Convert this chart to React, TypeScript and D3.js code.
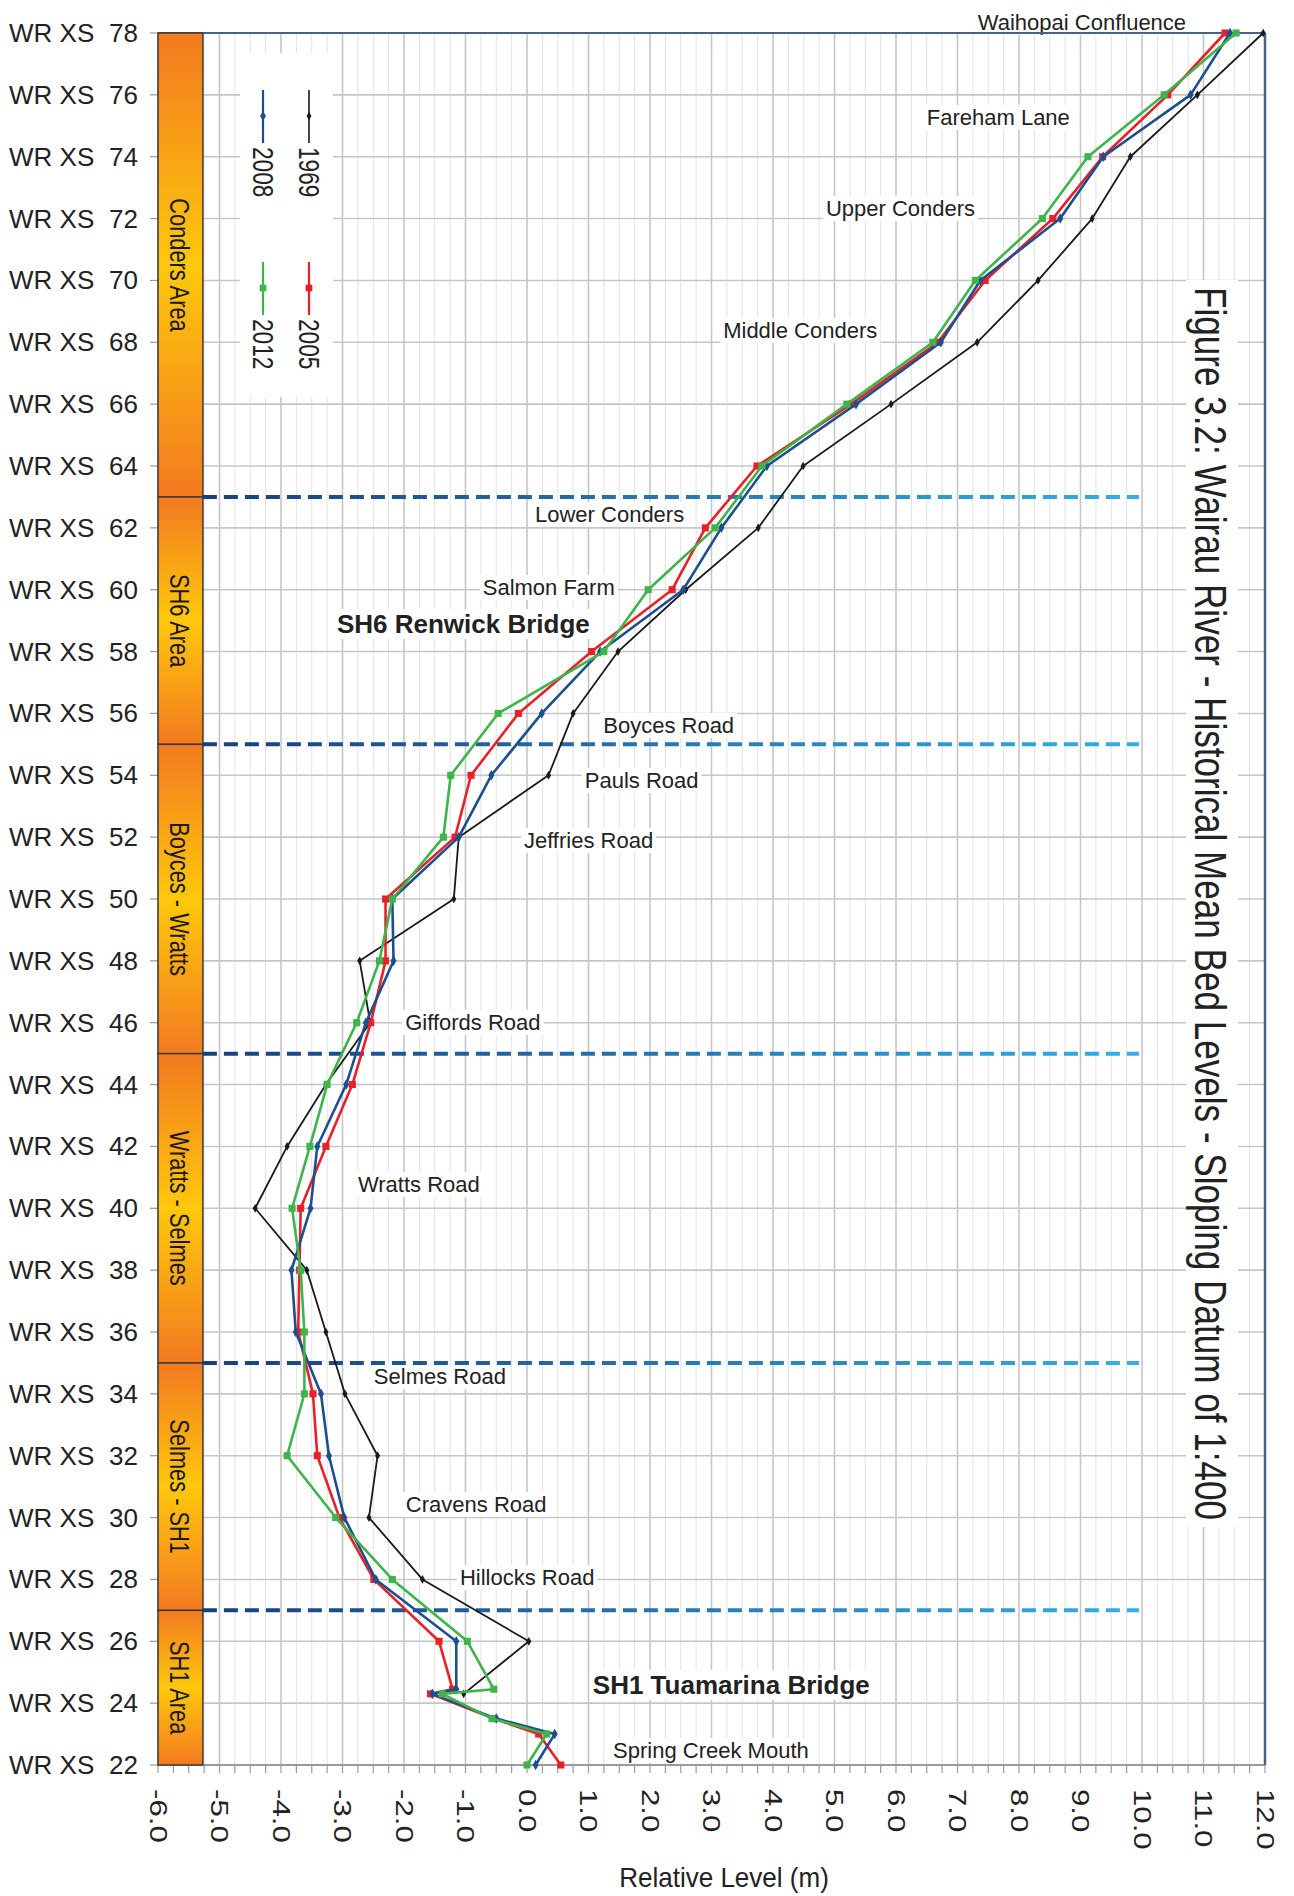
import React, { useEffect, useRef } from "react";
import * as d3 from "d3";

// cross section stations (XS number) and mean bed level (m) per survey
const stations = [78, 76, 74, 72, 70, 68, 66, 64, 62, 60, 58, 56, 54, 52, 50, 48, 46, 44, 42, 40, 38, 36, 34, 32, 30, 28, 26, 24.45, 24.3, 23.5, 23, 22];
const level1969 = [11.97, 10.9, 9.81, 9.19, 8.31, 7.32, 5.92, 4.49, 3.76, 2.58, 1.48, 0.75, 0.35, -1.11, -1.19, -2.72, -2.55, -3.27, -3.9, -4.42, -3.58, -3.27, -2.96, -2.43, -2.57, -1.7, 0.03, null, -1.03, null, null, null];
const level2005 = [11.35, 10.42, 9.36, 8.55, 7.45, 6.68, 5.27, 3.74, 2.9, 2.36, 1.05, -0.14, -0.91, -1.17, -2.3, -2.3, -2.54, -2.84, -3.27, -3.68, -3.7, -3.72, -3.48, -3.41, -3.05, -2.49, -1.43, -1.21, -1.57, -0.54, 0.19, 0.55];
const level2008 = [11.43, 10.79, 9.37, 8.67, 7.37, 6.73, 5.35, 3.9, 3.16, 2.54, 1.19, 0.24, -0.58, -1.11, -2.19, -2.17, -2.62, -2.94, -3.41, -3.52, -3.83, -3.76, -3.35, -3.22, -2.97, -2.46, -1.15, -1.15, -1.54, -0.5, 0.45, 0.14];
const level2012 = [11.53, 10.36, 9.12, 8.38, 7.29, 6.6, 5.2, 3.82, 3.06, 1.97, 1.25, -0.47, -1.24, -1.36, -2.19, -2.4, -2.77, -3.25, -3.53, -3.82, -3.68, -3.62, -3.62, -3.9, -3.11, -2.19, -0.97, -0.54, -1.38, -0.57, 0.32, 0.0];

const seriesNames = ["1969", "2005", "2008", "2012"];
const seriesColors = ["#1a1a1a", "#e8202a", "#1d4f8f", "#3db54a"];

// reach areas down the left side, split at these XS
const areaNames = ["Conders Area", "SH6 Area", "Boyces - Wratts", "Wratts - Selmes", "Selmes - SH1", "SH1 Area"];
const areaBreaks = [78, 63, 55, 45, 35, 27, 22];

// place names, anchored at (level, XS) of the text baseline start
const placeNames = ["Waihopai Confluence", "Fareham Lane", "Upper Conders", "Middle Conders", "Lower Conders", "Salmon Farm", "SH6 Renwick Bridge", "Boyces Road", "Pauls Road", "Jeffries Road", "Giffords Road", "Wratts Road", "Selmes Road", "Cravens Road", "Hillocks Road", "SH1 Tuamarina Bridge", "Spring Creek Mouth"];
const placeLevels = [7.33, 6.5, 4.86, 3.19, 0.13, -0.72, -3.09, 1.24, 0.94, -0.05, -1.98, -2.75, -2.49, -1.97, -1.09, 1.07, 1.4];
const placeStations = [78.1, 75.03, 72.08, 68.14, 62.19, 59.83, 58.6, 55.37, 53.59, 51.65, 45.77, 40.53, 34.32, 30.18, 27.82, 24.3, 22.23];
const placeBold = ["SH6 Renwick Bridge", "SH1 Tuamarina Bridge"];

const xTicks = d3.range(-6, 12.001, 1);
const yTicks = d3.range(22, 78.001, 2);
const title = "Figure 3.2: Wairau River - Historical Mean Bed Levels - Sloping Datum of 1:400";
const xTitle = "Relative Level (m)";

const W = 1294;
const H = 1896;
const FONT = "'Liberation Sans', Arial, sans-serif";

export default function App() {
    const ref = useRef<SVGSVGElement>(null);

    useEffect(() => {
        const svg = d3.select(ref.current);
        svg.selectAll("*").remove();

        const x = d3.scaleLinear().domain([-6, 12]).range([158, 1265]);
        const y = d3.scaleLinear().domain([78, 22]).range([33, 1765]);
        const bandRight = x(-5.27);

        const defs = svg.append("defs");
        const bandGrad = defs.append("linearGradient").attr("id", "bandGrad")
            .attr("x1", 0).attr("y1", 0).attr("x2", 0).attr("y2", 1);
        bandGrad.append("stop").attr("offset", "0%").attr("stop-color", "#f37a20");
        bandGrad.append("stop").attr("offset", "50%").attr("stop-color", "#fec80c");
        bandGrad.append("stop").attr("offset", "100%").attr("stop-color", "#f37a20");
        const dashGrad = defs.append("linearGradient").attr("id", "dashGrad")
            .attr("gradientUnits", "userSpaceOnUse")
            .attr("x1", bandRight).attr("x2", x(9.95)).attr("y1", 0).attr("y2", 0);
        dashGrad.append("stop").attr("offset", "0%").attr("stop-color", "#173f7c");
        dashGrad.append("stop").attr("offset", "100%").attr("stop-color", "#35aee6");

        svg.append("rect").attr("width", W).attr("height", H).attr("fill", "#fff");

        // grid
        const grid = svg.append("g");
        d3.range(-6, 12.001, 0.25).filter(v => Math.abs(v - Math.round(v)) > 1e-6).forEach(v => {
            grid.append("line").attr("x1", x(v)).attr("x2", x(v)).attr("y1", y(78)).attr("y2", y(22))
                .attr("stroke", "#e2e2e2").attr("stroke-width", 1);
        });
        xTicks.forEach(v => {
            grid.append("line").attr("x1", x(v)).attr("x2", x(v)).attr("y1", y(78)).attr("y2", y(22))
                .attr("stroke", "#c6c6c6").attr("stroke-width", 1.6);
        });
        yTicks.forEach(v => {
            grid.append("line").attr("x1", x(-6)).attr("x2", x(12)).attr("y1", y(v)).attr("y2", y(v))
                .attr("stroke", "#c6c6c6").attr("stroke-width", 1.6);
        });

        // bottom axis ticks
        d3.range(-6, 12.001, 0.25).forEach(v => {
            grid.append("line").attr("x1", x(v)).attr("x2", x(v)).attr("y1", y(22)).attr("y2", y(22) + 8)
                .attr("stroke", "#9a9a9a").attr("stroke-width", 1.2);
        });
        grid.append("line").attr("x1", x(-6)).attr("x2", x(12)).attr("y1", y(22)).attr("y2", y(22))
            .attr("stroke", "#9a9a9a").attr("stroke-width", 2);

        // x tick labels, rotated
        xTicks.forEach(v => {
            svg.append("text").attr("transform", `translate(${x(v)},1789) rotate(90) scale(1.3,1)`)
                .attr("dominant-baseline", "central")
                .attr("font-family", FONT).attr("font-size", 24).attr("fill", "#222")
                .text(v.toFixed(1));
        });

        // y tick labels
        yTicks.forEach(v => {
            svg.append("line").attr("x1", 150).attr("x2", x(-6)).attr("y1", y(v)).attr("y2", y(v))
                .attr("stroke", "#9a9a9a").attr("stroke-width", 1.2);
            svg.append("text").attr("x", 9).attr("y", y(v) + 9)
                .attr("font-family", FONT).attr("font-size", 26).attr("fill", "#222").text("WR XS");
            svg.append("text").attr("x", 138).attr("y", y(v) + 9).attr("text-anchor", "end")
                .attr("font-family", FONT).attr("font-size", 26).attr("fill", "#222").text(v);
        });

        // legend box
        svg.append("rect").attr("x", 240).attr("y", 53).attr("width", 93).attr("height", 344).attr("fill", "#fff");
        const legendCol = [309, 309, 263, 263];
        const legendRow = [0, 1, 0, 1];
        seriesNames.forEach((name, i) => {
            const lx = legendCol[i];
            const ly = 90 + legendRow[i] * 172;
            svg.append("line").attr("x1", lx).attr("x2", lx).attr("y1", ly).attr("y2", ly + 53)
                .attr("stroke", seriesColors[i]).attr("stroke-width", i === 0 ? 1.6 : 2.2);
            svg.append("path").attr("transform", `translate(${lx},${ly + 26})`)
                .attr("d", d3.symbol(i < 1 || i === 2 ? d3.symbolDiamond : d3.symbolSquare, i === 0 ? 20 : i === 2 ? 30 : 45)())
                .attr("fill", seriesColors[i]);
            svg.append("text").attr("transform", `translate(${lx},${ly + 57}) rotate(90) scale(0.78,1)`)
                .attr("dominant-baseline", "central")
                .attr("font-family", FONT).attr("font-size", 29).attr("fill", "#222").text(name);
        });

        // place labels with white backing
        const labels = svg.append("g");
        placeNames.forEach((t, i) => {
            const bold = placeBold.includes(t);
            const txt = labels.append("text").attr("x", x(placeLevels[i])).attr("y", y(placeStations[i]))
                .attr("font-family", FONT).attr("font-size", bold ? 26 : 22)
                .attr("font-weight", bold ? "bold" : "normal")
                .attr("fill", "#222").text(t);
            const bb = (txt.node() as SVGTextElement).getBBox();
            labels.insert("rect", () => txt.node())
                .attr("x", bb.x - 3).attr("y", bb.y).attr("width", bb.width + 6).attr("height", bb.height)
                .attr("fill", "#fff");
        });

        // title with white backing
        svg.append("rect").attr("x", 1186).attr("y", 280).attr("width", 52).attr("height", 1247).attr("fill", "#fff");
        svg.append("text").attr("transform", `translate(1210,287) rotate(90)`)
            .attr("dominant-baseline", "central")
            .attr("font-family", FONT).attr("font-size", 44).attr("fill", "#222")
            .attr("textLength", 1233).attr("lengthAdjust", "spacingAndGlyphs")
            .text(title);

        // plot border (top, right)
        svg.append("line").attr("x1", x(-6)).attr("x2", x(12)).attr("y1", y(78)).attr("y2", y(78))
            .attr("stroke", "#4a6385").attr("stroke-width", 2);
        svg.append("line").attr("x1", x(12)).attr("x2", x(12)).attr("y1", y(78)).attr("y2", y(22))
            .attr("stroke", "#4a6385").attr("stroke-width", 2.5);

        // area band
        areaNames.forEach((name, i) => {
            const y0 = y(areaBreaks[i]);
            const y1 = y(areaBreaks[i + 1]);
            svg.append("rect").attr("x", x(-6)).attr("y", y0).attr("width", bandRight - x(-6)).attr("height", y1 - y0)
                .attr("fill", "url(#bandGrad)").attr("stroke", "#3a3a3a").attr("stroke-width", 1.5);
            svg.append("text").attr("transform", `translate(${(x(-6) + bandRight) / 2},${(y0 + y1) / 2}) rotate(90) scale(0.78,1)`)
                .attr("text-anchor", "middle").attr("dominant-baseline", "central")
                .attr("font-family", FONT).attr("font-size", 28).attr("fill", "#1a1a1a").text(name);
        });

        // area boundaries
        areaBreaks.slice(1, -1).forEach(b => {
            svg.append("line").attr("x1", bandRight).attr("x2", x(9.95)).attr("y1", y(b)).attr("y2", y(b))
                .attr("stroke", "url(#dashGrad)").attr("stroke-width", 4).attr("stroke-dasharray", "14,7");
        });

        // series
        const allLevels = [level1969, level2005, level2008, level2012];
        const line = d3.line<[number, number]>().x(d => x(d[1])).y(d => y(d[0]));
        allLevels.forEach((levels, i) => {
            const pts = stations.map((s, j) => [s, levels[j]] as [number, number | null])
                .filter(d => d[1] != null) as [number, number][];
            svg.append("path").attr("d", line(pts)).attr("fill", "none")
                .attr("stroke", seriesColors[i]).attr("stroke-width", i === 0 ? 1.8 : 2.6)
                .attr("stroke-linejoin", "round");
            const sym = d3.symbol(i === 0 || i === 2 ? d3.symbolDiamond : d3.symbolSquare, i === 0 ? 22 : i === 2 ? 32 : 50);
            svg.append("g").selectAll("path").data(pts).enter().append("path")
                .attr("transform", d => `translate(${x(d[1])},${y(d[0])})`)
                .attr("d", sym()).attr("fill", seriesColors[i]);
        });

        // axis title
        svg.append("text").attr("x", 724).attr("y", 1887).attr("text-anchor", "middle")
            .attr("font-family", FONT).attr("font-size", 28).attr("fill", "#222")
            .attr("transform", "translate(724,0) scale(0.93,1) translate(-724,0)")
            .text(xTitle);
    }, []);

    return (
        <svg ref={ref} width={W} height={H} style={{ position: "absolute", left: 0, top: 0 }} />
    );
}
